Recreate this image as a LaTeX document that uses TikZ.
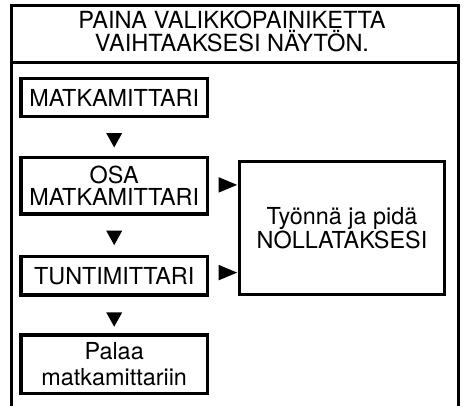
\documentclass[tikz,border=0pt]{standalone}
\usepackage{fontspec}
\setmainfont{TeX Gyre Heros}
\usetikzlibrary{calc}

\begin{document}
\begin{tikzpicture}[x=1pt, y=-1pt,
  box/.style={draw, line width=3.3pt, inner sep=0pt, align=center,
    font=\fontsize{23.4}{22.3}\selectfont},
  frame/.style={line width=3pt},
  tridown/.pic={\fill (-8,-7.2) -- (8,-7.2) -- (0,7.2) -- cycle;},
  triright/.pic={\fill (-9.3,-7.8) -- (9.3,0) -- (-9.3,7.8) -- cycle;}]
  \useasboundingbox (0,0) rectangle (463,406);
  % Outer frame, open at the bottom
  \coordinate (TL) at (11.7,5.3);
  \coordinate (TR) at (458,5.3);
  \draw[frame] (TL |- 0,412) -- (TL) -- (TR) -- (TR |- 0,412);
  \draw[frame] (TL |- 0,62.5) -- (TR |- 0,62.5);
  % Header
  \node[align=center, inner sep=0pt, font=\fontsize{23.6}{20.8}\selectfont]
    (header) at (232,31.5) {PAINA VALIKKOPAINIKETTA\\VAIHTAAKSESI NÄYTÖN.};
  % Display boxes
  \node[box, minimum width=186.3pt, minimum height=38.4pt] (matka) at (114.2,97.5) {MATKAMITTARI};
  \node[box, minimum width=186.3pt, minimum height=56.3pt] (osa) at (114.2,185.9) {OSA\\MATKAMITTARI};
  \node[box, minimum width=186.3pt, minimum height=38.3pt] (tunti) at (114.2,275.9) {TUNTIMITTARI};
  \node[box, minimum width=186.3pt, minimum height=58.3pt,
    font=\fontsize{23.4}{26.5}\selectfont] (palaa) at (114.2,364.2) {Palaa\\matkamittariin};
  \node[box, minimum width=205pt, minimum height=133.5pt,
    font=\fontsize{23.4}{20.5}\selectfont] (nolla) at (342,228) {Työnnä ja pidä\\NOLLATAKSESI};
  % Arrows
  \pic at ($(matka.south)!.5!(osa.north)+(0,3)$) {tridown};
  \pic at ($(osa.south)!.5!(tunti.north)+(0,2.5)$) {tridown};
  \pic at ($(tunti.south)!.5!(palaa.north)+(0,4.5)$) {tridown};
  \pic at ($(osa.east)+(18.8,-1)$) {triright};
  \pic at ($(tunti.east)+(18.8,-3.3)$) {triright};

\end{tikzpicture}
\end{document}
